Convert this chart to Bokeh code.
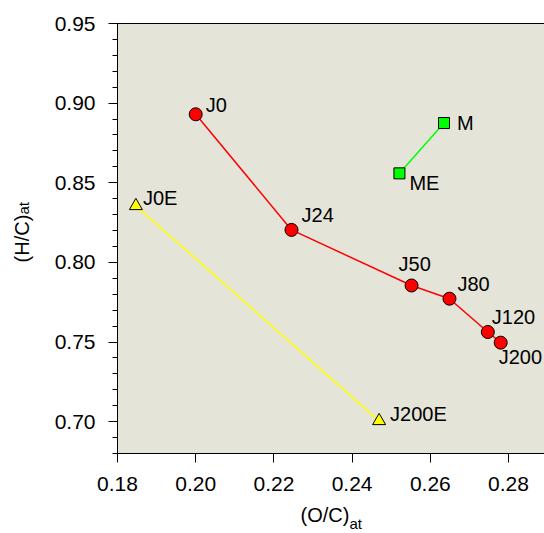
from bokeh.plotting import figure
from bokeh.models import Range1d, LinearAxis, Label, FixedTicker, Title
from bokeh.embed import file_html
from bokeh.resources import INLINE

# J series (red circles)
j_names = ["J0", "J24", "J50", "J80", "J120", "J200"]
j_oc = [0.2000, 0.2245, 0.2552, 0.2649, 0.2747, 0.2780]
j_hc = [0.8930, 0.8204, 0.7855, 0.7772, 0.7563, 0.7496]

# JE series (yellow triangles)
je_names = ["J0E", "J200E"]
je_oc = [0.1847, 0.2469]
je_hc = [0.8355, 0.7005]

# M series (green squares)
m_names = ["M", "ME"]
m_oc = [0.2635, 0.2521]
m_hc = [0.8875, 0.8559]

x_ticks = [0.18, 0.20, 0.22, 0.24, 0.26, 0.28]
y_ticks = [0.70, 0.75, 0.80, 0.85, 0.90, 0.95]
y_minor = [round(0.68 + 0.01 * i, 2) for i in range(28)]

FONT = "Liberation Sans"
FS = "21px"
LFS = "20px"

p = figure(width=544, height=533, output_backend="svg", toolbar_location=None,
           x_range=Range1d(0.18, 0.2892), y_range=Range1d(0.68, 0.95),
           min_border_left=117, min_border_right=0, min_border_top=23,
           min_border_bottom=80)
p.background_fill_color = "#e4e4d9"
p.border_fill_color = "white"
p.outline_line_color = None
p.grid.visible = False

for ax in (p.xaxis[0], p.yaxis[0]):
    ax.axis_line_color = "black"
    ax.major_tick_line_color = "black"
    ax.major_tick_in = 0
    ax.major_tick_out = 9
    ax.major_label_text_font = FONT
    ax.major_label_text_font_size = FS
    ax.major_label_text_color = "black"

p.xaxis[0].ticker = FixedTicker(ticks=x_ticks)
p.xaxis[0].major_label_overrides = {t: f"{t:.2f}" for t in x_ticks}
p.xaxis[0].minor_tick_line_color = None
p.xaxis[0].major_label_standoff = 14

p.yaxis[0].ticker = FixedTicker(ticks=y_ticks, minor_ticks=y_minor)
p.yaxis[0].major_label_overrides = {t: f"{t:.2f}" for t in y_ticks}
p.yaxis[0].minor_tick_in = 0
p.yaxis[0].minor_tick_out = 5
p.yaxis[0].minor_tick_line_color = "black"
p.yaxis[0].major_label_standoff = 13
p.yaxis[0].axis_label = "(H/C)"
p.yaxis[0].axis_label_text_font = FONT
p.yaxis[0].axis_label_text_font_size = LFS
p.yaxis[0].axis_label_text_font_style = "normal"
p.yaxis[0].axis_label_text_color = "black"
p.yaxis[0].axis_label_standoff = 19

top = LinearAxis(major_tick_line_color=None, minor_tick_line_color=None,
                 major_label_text_font_size="0px", axis_line_color="black",
                 ticker=FixedTicker(ticks=[]))
p.add_layout(top, "above")

# axis titles with subscripts (side-panel titles)
p.add_layout(Title(text="(O/C)", align="left", offset=183, standoff=16,
                   text_font=FONT, text_font_size=LFS, text_font_style="normal",
                   text_color="black"),
             "below")
p.add_layout(Title(text="at", align="left", offset=232, standoff=-38,
                   vertical_align="top",
                   text_font=FONT, text_font_size="15px", text_font_style="normal",
                   text_color="black"),
             "below")
p.add_layout(Title(text="at", align="left", offset=239, standoff=-48,
                   text_font=FONT, text_font_size="15px", text_font_style="normal",
                   text_color="black"),
             "left")

# lines
p.line(j_oc, j_hc, line_color="#ff0000", line_width=1.5)
p.line(je_oc, je_hc, line_color="#ffff00", line_width=1.5)
p.line(m_oc, m_hc, line_color="#00ff00", line_width=1.5)

# markers
p.scatter(j_oc, j_hc, marker="circle", size=13, fill_color="#ff0000",
          line_color="black", line_width=1)
p.scatter(je_oc, je_hc, marker="triangle", size=13, fill_color="#ffff00",
          line_color="black", line_width=1)
p.scatter(m_oc, m_hc, marker="square", size=11, fill_color="#00ff00",
          line_color="black", line_width=1)

# point labels: (dx, dy) in pixels, dy positive = up
j_off = [(10, 9), (10, 15), (-13, 21), (8, 15), (4, 15), (-2, -14)]
je_off = [(7, 8), (11, 7)]
m_off = [(13, 0), (10, -10)]
for names, xs, ys, offs in ((j_names, j_oc, j_hc, j_off),
                            (je_names, je_oc, je_hc, je_off),
                            (m_names, m_oc, m_hc, m_off)):
    for n, x, y, (dx, dy) in zip(names, xs, ys, offs):
        p.add_layout(Label(x=x, y=y, x_offset=dx, y_offset=dy, text=n,
                           text_font=FONT, text_font_size=LFS,
                           text_baseline="middle", text_align="left",
                           text_color="black"))

open("out.html", "w").write(file_html(p, INLINE))
